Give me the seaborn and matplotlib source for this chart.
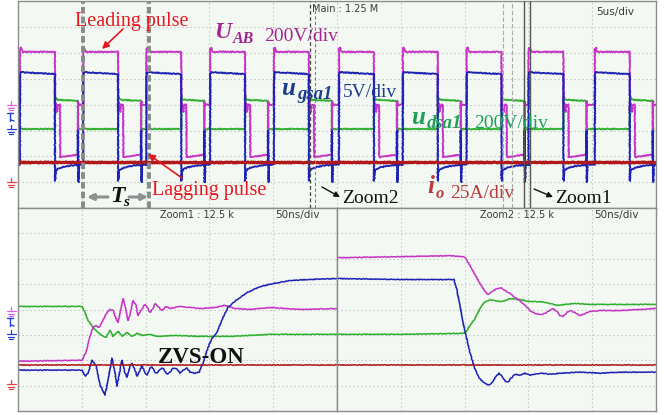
import numpy as np
import pandas as pd
import matplotlib
matplotlib.use("Agg")
import matplotlib.pyplot as plt
import seaborn as sns

sns.set_theme(style="white")
plt.rcParams["font.family"] = ["DejaVu Sans"]

W, H = 670, 415

# ---------------- main record: 5 us/div, vertical values in divisions ----------------
period_starts_us = [0.15, 5.10, 10.05, 15.05, 20.05, 25.15, 30.15, 35.15, 40.00, 45.20]

uab_offsets = [0.00, 0.01, 0.08, 0.20, 2.74, 2.76, 2.82, 2.90, 2.98, 3.14, 3.16, 3.35, 4.54, 4.56, 4.62, 4.80]
uab_levels = [0.00, 2.15, 2.22, 2.05, 2.05, -0.20, 0.05, -0.28, 0.00, 0.00, -2.03, -2.02, -1.93, 0.14, -0.02, 0.00]

ugs_offsets = [0.00, 0.02, 0.10, 0.40, 2.74, 2.75, 2.80, 2.92, 3.30, 3.90, 4.54, 4.55, 4.58, 4.63, 4.99]
ugs_levels = [-2.32, 1.20, 1.27, 1.25, 1.19, -2.95, -2.58, -2.50, -2.42, -2.36, -2.33, -1.00, -3.00, -2.32, -2.32]

uds_offsets = [0.00, 2.74, 2.76, 2.84, 3.00, 4.54, 4.56, 4.62]
uds_levels = [-0.94, -0.94, 0.32, 0.22, 0.19, 0.15, -0.98, -0.94]

io_level = -2.2

# lead-in state before the first captured edge
lead_in = {"uab": 0.0, "ugs": -2.32, "uds": -0.94}

# ---------------- Zoom1 (turn-on, 50 ns/div) ----------------
z1_uds_t = [0, 50.2, 52.5, 54.9, 58.8, 62.7, 66.6, 69.0, 72.1, 74.5, 78.4, 81.5, 85.4, 89.3, 93.3,
            97.2, 103.4, 108.9, 123.0, 142.6, 166.1, 197.5, 221.0, 250]
z1_uds_v = [0.12, 0.12, -0.12, -0.43, -0.71, -0.90, -1.06, -1.10, -0.82, -1.06, -0.86, -1.06, -0.90,
            -1.06, -0.94, -1.02, -0.98, -1.06, -1.02, -1.06, -1.06, -0.98, -0.98, -0.98]

z1_uab_t = [0, 50.2, 53.3, 56.4, 58.8, 61.1, 63.5, 66.6, 69.7, 72.1, 74.5, 76.8, 78.4, 80.7, 82.3,
            83.9, 86.2, 87.8, 90.1, 92.5, 94.0, 96.4, 99.5, 101.9, 103.4, 105.8, 107.4, 109.7,
            112.9, 116.0, 119.1, 127.0, 142.6, 154.4, 162.2, 170.1, 181.8, 197.5, 221.0, 250]
z1_uab_v = [-2.04, -2.00, -1.69, -1.06, -0.71, -0.63, -0.71, -0.43, -0.12, 0.00, -0.04, -0.35, -0.51,
            0.04, 0.43, 0.16, -0.43, -0.20, 0.35, 0.16, -0.24, -0.04, 0.20, 0.04, -0.12, 0.04, 0.24,
            0.12, -0.04, 0.12, 0.04, 0.12, 0.04, 0.08, 0.16, 0.04, 0.00, 0.08, 0.00, 0.04]

z1_ugs_t = [0, 50.2, 52.5, 54.9, 58.0, 61.1, 64.3, 68.2, 70.5, 73.7, 76.0, 77.6, 79.9, 81.5, 83.9,
            85.4, 87.8, 89.3, 91.7, 93.3, 95.6, 97.2, 99.5, 101.1, 103.4, 105.0, 107.4, 108.9,
            111.3, 113.6, 116.8, 119.1, 121.5, 124.6, 127.0, 129.3, 132.4, 134.8, 138.7, 141.9,
            145.0, 148.9, 152.0, 156.0, 160.7, 164.6, 168.5, 174.0, 179.5, 189.7, 199.8, 213.2,
            226.5, 250]
z1_ugs_v = [-2.39, -2.39, -2.63, -2.51, -2.00, -2.20, -2.98, -3.37, -2.78, -1.92, -2.47, -3.02,
            -2.39, -2.00, -2.51, -2.67, -2.24, -2.12, -2.39, -2.63, -2.39, -2.20, -2.51, -2.59,
            -2.31, -2.27, -2.47, -2.51, -2.35, -2.31, -2.55, -2.47, -2.31, -2.35, -2.51, -2.39,
            -2.31, -2.47, -2.51, -2.47, -2.12, -1.49, -1.14, -0.90, -0.31, 0.08, 0.27, 0.47, 0.67,
            0.90, 1.02, 1.14, 1.18, 1.22]

# ---------------- Zoom2 (turn-off, 50 ns/div) ----------------
z2_uab_t = [0, 49.4, 88.6, 98.7, 101.1, 104.2, 108.2, 112.1, 116.0, 118.3, 121.5, 125.4, 128.5,
            131.7, 135.6, 139.5, 143.4, 147.3, 151.3, 155.2, 159.1, 163.0, 165.4, 169.3, 172.4,
            174.8, 177.1, 180.3, 182.6, 186.5, 190.5, 194.4, 198.3, 206.1, 221.8, 237.5, 250]
z2_uab_v = [2.04, 2.08, 2.12, 2.08, 2.00, 1.73, 1.37, 1.02, 0.71, 0.59, 0.71, 0.82, 0.86, 0.75,
            0.63, 0.47, 0.35, 0.16, -0.04, -0.16, -0.20, -0.16, -0.08, 0.04, -0.08, -0.24, -0.27,
            -0.12, -0.04, -0.12, -0.24, -0.16, -0.08, -0.04, -0.04, 0.00, 0.04]

z2_ugs_t = [0, 49.4, 91.7, 94.0, 96.4, 98.7, 101.1, 104.2, 107.4, 110.5, 114.4, 118.3, 121.5,
            124.6, 127.0, 129.3, 131.7, 134.0, 136.4, 139.5, 143.4, 147.3, 151.3, 159.1, 167.0,
            174.8, 190.5, 206.1, 221.8, 250]
z2_ugs_v = [1.22, 1.18, 1.18, 0.75, 0.16, -0.51, -1.02, -1.69, -2.24, -2.63, -2.86, -2.98, -2.90,
            -2.63, -2.51, -2.63, -2.82, -2.86, -2.71, -2.55, -2.59, -2.51, -2.59, -2.51, -2.55,
            -2.51, -2.47, -2.51, -2.47, -2.47]

z2_uds_t = [0, 49.4, 100.3, 104.2, 108.2, 112.1, 115.2, 119.9, 127.7, 131.7, 135.6, 143.4, 151.3,
            159.1, 166.9, 172.4, 178.7, 186.5, 198.3, 214.0, 250]
z2_uds_v = [-0.98, -0.98, -0.94, -0.63, -0.35, 0.04, 0.27, 0.39, 0.31, 0.35, 0.43, 0.39, 0.31,
            0.31, 0.24, 0.16, 0.20, 0.24, 0.20, 0.20, 0.20]

zoom_io_level = -2.2

# ---------------- colours ----------------
trace_colors = {"uds": "#2EAF2E", "uab": "#C534C5", "ugs": "#1C22B4", "io": "#B0181A"}
bg = "#F3F8F3"
frame = "#8C8C8C"


def periodic(offsets, levels, start_level):
    t, v = [0.0], [start_level]
    for s in period_starts_us:
        t += [s + o for o in offsets]
        v += list(levels)
    return t, v


rows = []
for name, offs, levs in [("uds", uds_offsets, uds_levels),
                         ("uab", uab_offsets, uab_levels),
                         ("ugs", ugs_offsets, ugs_levels)]:
    t, v = periodic(offs, levs, lead_in[name])
    rows.append(pd.DataFrame({"t": t, "v": v, "trace": name}))
main_df = pd.concat(rows, ignore_index=True)
io_df = pd.DataFrame({"t": [0.0, 50.0], "v": [io_level, io_level], "trace": "io"})


def zoom_frame(uds, uab, ugs):
    parts = []
    for name, (t, v) in [("uds", uds), ("uab", uab), ("ugs", ugs)]:
        parts.append(pd.DataFrame({"t": t, "v": v, "trace": name}))
    parts.append(pd.DataFrame({"t": [0.0, 250.0], "v": [zoom_io_level] * 2, "trace": "io"}))
    return pd.concat(parts, ignore_index=True)


z1_df = zoom_frame((z1_uds_t, z1_uds_v), (z1_uab_t, z1_uab_v), (z1_ugs_t, z1_ugs_v))
z2_df = zoom_frame((z2_uds_t, z2_uds_v), (z2_uab_t, z2_uab_v), (z2_ugs_t, z2_ugs_v))

# ---------------- figure ----------------
fig = plt.figure(figsize=(W / 100, H / 100), dpi=100)
fig.patch.set_facecolor("white")


def rect(x0, y0, x1, y1):
    return [x0 / W, 1 - y1 / H, (x1 - x0) / W, (y1 - y0) / H]


ax_main = fig.add_axes(rect(18, 1.5, 656, 208))
ax_z1 = fig.add_axes(rect(18, 208, 337, 411))
ax_z2 = fig.add_axes(rect(337, 208, 656, 411))


def scope_style(ax, xmax, xstep):
    ax.set_facecolor(bg)
    ax.set_xlim(0, xmax)
    ax.set_ylim(-4, 4)
    ax.set_xticks(np.arange(xstep, xmax, xstep))
    ax.set_yticks(np.arange(-3, 4, 1))
    ax.tick_params(length=0, labelbottom=False, labelleft=False)
    ax.grid(True, color="#B4B8B4", linestyle=(0, (1, 2.6)), linewidth=0.8)
    for sp in ax.spines.values():
        sp.set_color(frame)
        sp.set_linewidth(1.0)


scope_style(ax_main, 50, 5)
scope_style(ax_z1, 250, 50)
scope_style(ax_z2, 250, 50)

sns.lineplot(data=main_df, x="t", y="v", hue="trace", palette=trace_colors, sort=False,
             estimator=None, legend=False, ax=ax_main, linewidth=1.35)
sns.lineplot(data=io_df, x="t", y="v", hue="trace", palette=trace_colors, sort=False,
             estimator=None, legend=False, ax=ax_main, linewidth=2.3)
for ax, df in [(ax_z1, z1_df), (ax_z2, z2_df)]:
    sns.lineplot(data=df, x="t", y="v", hue="trace", palette=trace_colors, sort=False,
                 estimator=None, legend=False, ax=ax, linewidth=1.1)

# fine acquisition jitter on the traces
for ax, amp in ((ax_main, 0.45), (ax_z1, 0.35), (ax_z2, 0.35)):
    ax.set_xlabel("")
    ax.set_ylabel("")
    for ln in ax.get_lines():
        if ln.get_linestyle() == "-":
            ln.set_sketch_params(amp, 1.6, 1.5)

# switching-period markers and zoom windows on the main record
for tx in (5.13, 10.23):
    ax_main.axvline(tx, color="#8A8A8A", lw=2.8, ls=(0, (1.7, 0.8)), zorder=5)
ax_main.axvline(22.92, color="#454545", lw=0.9, ls=(0, (3, 2)), zorder=5)
ax_main.axvline(23.28, color="#808080", lw=0.8, ls=(0, (3, 2)), zorder=5)
ax_main.axvline(38.0, color="#A8A8A8", lw=0.8, ls=(0, (4, 2)), zorder=5)
ax_main.axvline(38.7, color="#A8A8A8", lw=0.8, ls=(0, (4, 2)), zorder=5)
ax_main.axvline(39.66, color="#555555", lw=1.0, zorder=5)
ax_main.axvline(40.13, color="#555555", lw=1.0, zorder=5)

# ---------------- annotations in pixel space ----------------
ov = fig.add_axes([0, 0, 1, 1], zorder=10)
ov.set_xlim(0, W)
ov.set_ylim(H, 0)
ov.axis("off")
ov.patch.set_alpha(0)

serif = "Liberation Serif"
red = "#E5181E"
c_uab, c_gs, c_ds, c_io = "#A3258F", "#1C3C8C", "#1FA05A", "#B83C3C"


def label(x, y, s, color, size, bold=False, italic=False, family=serif):
    ov.text(x, y, s, color=color, fontsize=size, family=family,
            fontweight="bold" if bold else "normal",
            style="italic" if italic else "normal", va="baseline", ha="left")


def arrow(x0, y0, x1, y1, color, lw=1.2, ms=10):
    ov.annotate("", xy=(x1, y1), xytext=(x0, y0),
                arrowprops=dict(arrowstyle="-|>", color=color, lw=lw, mutation_scale=ms,
                                shrinkA=0, shrinkB=0))


label(75, 26, "Leading pulse", red, 14.5)
arrow(123, 29, 102, 49, red)
label(152, 195, "Lagging pulse", red, 14.5)
arrow(182, 178, 148, 154, red)

label(214, 38, "U", c_uab, 17, bold=True, italic=True)
label(233, 43, "AB", c_uab, 11.5, bold=True, italic=True)
label(264, 41, "200V/div", c_uab, 14)

label(281, 95, "u", c_gs, 18, bold=True, italic=True)
label(297, 99, "gsa1", c_gs, 13.5, bold=True, italic=True)
label(343, 97, "5V/div", c_gs, 14)

label(411, 124, "u", c_ds, 18, bold=True, italic=True)
label(427, 128, "dsa1", c_ds, 13.5, bold=True, italic=True)
label(474, 128, "200V/div", c_ds, 14)

label(427, 193, "i", c_io, 18, bold=True, italic=True)
label(436, 198, "o", c_io, 12, bold=True, italic=True)
label(450, 198, "25A/div", c_io, 14)

label(110, 202, "T", "#111111", 17, bold=True, italic=True)
label(123, 206, "s", "#111111", 11, bold=True, italic=True)
arrow(108, 197, 87, 197, "#8F8F8F", lw=2.2, ms=9)
arrow(129, 197, 148, 197, "#8F8F8F", lw=2.2, ms=9)

arrow(322, 187, 340, 197, "#111111", lw=1.0, ms=8)
label(342, 203, "Zoom2", "#111111", 14)
arrow(534, 189, 553, 197, "#111111", lw=1.0, ms=8)
label(555, 203, "Zoom1", "#111111", 14)

label(158, 363, "ZVS-ON", "#111111", 16.5, bold=True)

sans = "DejaVu Sans"
label(312, 12, "Main : 1.25 M", "#3A3A3A", 7, family=sans)
label(596, 15, "5us/div", "#3A3A3A", 7.5, family=sans)
label(160, 218, "Zoom1 : 12.5 k", "#3A3A3A", 7, family=sans)
label(275, 218, "50ns/div", "#3A3A3A", 7.5, family=sans)
label(480, 218, "Zoom2 : 12.5 k", "#3A3A3A", 7, family=sans)
label(594, 218, "50ns/div", "#3A3A3A", 7.5, family=sans)


def ground(x, y, color):
    ov.plot([x, x], [y - 5, y - 1], color=color, lw=0.9)
    for dy, half in ((-1, 4.5), (1.8, 3.2), (4.4, 1.8)):
        ov.plot([x - half, x + half], [y + dy, y + dy], color=color, lw=0.9)


def trig(x, y, color):
    ov.plot([x - 3, x + 3], [y - 4, y - 4], color=color, lw=1.0)
    ov.plot([x, x], [y - 4, y + 4], color=color, lw=1.0)
    ov.plot([x + 1, x + 4], [y + 3, y + 4], color=color, lw=1.0)


for y_g, y_t, y_b, y_r in ((106, 117, 130, 183), (312, 322, 335, 385)):
    ground(11, y_g, "#E060E0")
    trig(10, y_t, "#2040D0")
    ground(11, y_b, "#2040D0")
    ground(11, y_r, "#E04040")

fig.savefig("out.png", dpi=100, facecolor="white")
